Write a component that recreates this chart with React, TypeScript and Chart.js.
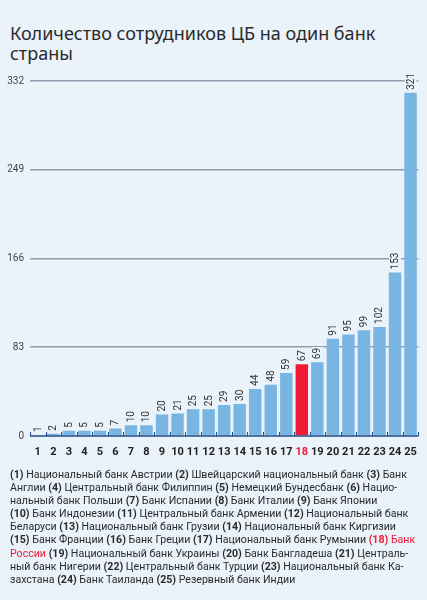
import React, { useEffect, useRef } from "react";
import { Chart, registerables } from "chart.js";

Chart.register(...registerables);

const title1 = "Количество сотрудников ЦБ на один банк";
const title2 = "страны";

const categories = ["1","2","3","4","5","6","7","8","9","10","11","12","13","14","15","16","17","18","19","20","21","22","23","24","25"];
const values = [1,2,5,5,5,7,10,10,20,21,25,25,29,30,44,48,59,67,69,91,95,99,102,153,321];
const highlightIndex = 17;
const yTicks = [0, 83, 166, 249, 332];

// legend lines: [text, bold?, red?]
const legendLines: [string, boolean, boolean][][] = [
  [["(1)", true, false], [" Национальный банк Австрии ", false, false], ["(2)", true, false], [" Швейцарский национальный банк ", false, false], ["(3)", true, false], [" Банк", false, false]],
  [["Англии ", false, false], ["(4)", true, false], [" Центральный банк Филиппин ", false, false], ["(5)", true, false], [" Немецкий Бундесбанк ", false, false], ["(6)", true, false], [" Нацио-", false, false]],
  [["нальный банк Польши ", false, false], ["(7)", true, false], [" Банк Испании ", false, false], ["(8)", true, false], [" Банк Италии ", false, false], ["(9)", true, false], [" Банк Японии", false, false]],
  [["(10)", true, false], [" Банк Индонезии ", false, false], ["(11)", true, false], [" Центральный банк Армении ", false, false], ["(12)", true, false], [" Национальный банк", false, false]],
  [["Беларуси ", false, false], ["(13)", true, false], [" Национальный банк Грузии ", false, false], ["(14)", true, false], [" Национальный банк Киргизии", false, false]],
  [["(15)", true, false], [" Банк Франции ", false, false], ["(16)", true, false], [" Банк Греции ", false, false], ["(17)", true, false], [" Национальный банк Румынии ", false, false], ["(18)", true, true], [" Банк", false, true]],
  [["России", false, true], [" ", false, false], ["(19)", true, false], [" Национальный банк Украины ", false, false], ["(20)", true, false], [" Банк Бангладеша ", false, false], ["(21)", true, false], [" Централь-", false, false]],
  [["ный банк Нигерии ", false, false], ["(22)", true, false], [" Центральный банк Турции ", false, false], ["(23)", true, false], [" Национальный банк Ка-", false, false]],
  [["захстана ", false, false], ["(24)", true, false], [" Банк Таиланда ", false, false], ["(25)", true, false], [" Резервный банк Индии", false, false]],
];

const BG = "#EAF2FA";
const BAR = "#79B5E3";
const RED = "#EE1A36";
const GRID = "#8E9CB0";
const AXIS = "#1F4B85";

export default function App() {
  const ref = useRef<HTMLCanvasElement>(null);
  useEffect(() => {
    if (!ref.current) return;
    const labelPlugin = {
      id: "vals",
      afterDatasetsDraw(chart: any) {
        const ctx = chart.ctx;
        const meta = chart.getDatasetMeta(0);
        const y0 = chart.scales.y.getPixelForValue(0);
        // baseline
        ctx.save();
        ctx.strokeStyle = AXIS;
        ctx.lineWidth = 1.5;
        ctx.beginPath();
        ctx.moveTo(chart.chartArea.left, y0);
        ctx.lineTo(chart.chartArea.right, y0);
        ctx.stroke();
        ctx.lineWidth = 1;
        const step = (chart.chartArea.right - chart.chartArea.left) / categories.length;
        for (let i = 0; i <= categories.length; i++) {
          const x = Math.round(chart.chartArea.left + i * step) + 0.5;
          ctx.beginPath();
          ctx.moveTo(x, y0);
          ctx.lineTo(x, y0 - 4);
          ctx.stroke();
        }
        ctx.restore();
        // value labels
        ctx.save();
        ctx.font = "10px Roboto";
        meta.data.forEach((bar: any, i: number) => {
          const txt = String(values[i]);
          const w = ctx.measureText(txt).width;
          ctx.save();
          ctx.translate(bar.x, bar.y - 3);
          ctx.rotate(-Math.PI / 2);
          ctx.fillStyle = BG;
          ctx.fillRect(-1, -6, w + 2, 12);
          ctx.fillStyle = "#333333";
          ctx.textAlign = "left";
          ctx.textBaseline = "middle";
          ctx.fillText(txt, 0, 0.5);
          ctx.restore();
        });
        ctx.restore();
      },
    };
    const chart = new Chart(ref.current, {
      type: "bar",
      data: {
        labels: categories,
        datasets: [
          {
            data: values,
            backgroundColor: values.map((_, i) => (i === highlightIndex ? RED : BAR)),
            borderWidth: 0,
            barPercentage: 0.8,
            categoryPercentage: 1,
          },
        ],
      },
      options: {
        animation: false,
        responsive: false,
        maintainAspectRatio: false,
        layout: { padding: { top: 26, right: 7, left: 0, bottom: 0 } },
        plugins: { legend: { display: false }, tooltip: { enabled: false } },
        scales: {
          x: {
            grid: { display: false, drawTicks: false },
            border: { display: false },
            ticks: {
              padding: 10,
              font: { family: "Roboto", size: 11, weight: "bold" },
              color: (c: any) => (c.index === highlightIndex ? RED : "#222222"),
              autoSkip: false,
              maxRotation: 0,
            },
            afterFit: (s: any) => {
              s.height = 34;
            },
          },
          y: {
            min: 0,
            max: 332,
            afterBuildTicks: (s: any) => {
              s.ticks = yTicks.map((v) => ({ value: v }));
            },
            grid: {
              drawTicks: false,
              color: (c: any) => (c.tick && c.tick.value === 0 ? "rgba(0,0,0,0)" : GRID),
              lineWidth: 1.6,
            },
            border: { display: false },
            ticks: {
              padding: 6,
              font: { family: "Roboto", size: 10 },
              color: "#444444",
            },
            afterFit: (s: any) => {
              s.width = 30;
            },
          },
        },
      },
      plugins: [labelPlugin],
    } as any);
    return () => chart.destroy();
  }, []);

  return (
    <div style={{ position: "fixed", left: 0, top: 0, width: 427, height: 600, background: BG, overflow: "hidden" }}>
      <div
        style={{
          position: "absolute",
          left: 10,
          top: 23,
          fontFamily: "'Noto Sans', sans-serif",
          fontSize: 18,
          lineHeight: "20px",
          color: "#2a2a2a",
          whiteSpace: "nowrap",
        }}
      >
        <div>{title1}</div>
        <div>{title2}</div>
      </div>
      <canvas ref={ref} width={427} height={415} style={{ position: "absolute", left: 0, top: 55, width: 427, height: 415 }} />
      <div
        style={{
          position: "absolute",
          left: 10,
          top: 468,
          fontFamily: "Roboto, sans-serif",
          fontSize: 10.6,
          lineHeight: "13.1px",
          color: "#2a2a2a",
          whiteSpace: "nowrap",
        }}
      >
        {legendLines.map((line, li) => (
          <div key={li}>
            {line.map(([t, b, r], si) => (
              <span key={si} style={{ fontWeight: b ? 700 : 400, color: r ? RED : undefined }}>
                {t}
              </span>
            ))}
          </div>
        ))}
      </div>
    </div>
  );
}
